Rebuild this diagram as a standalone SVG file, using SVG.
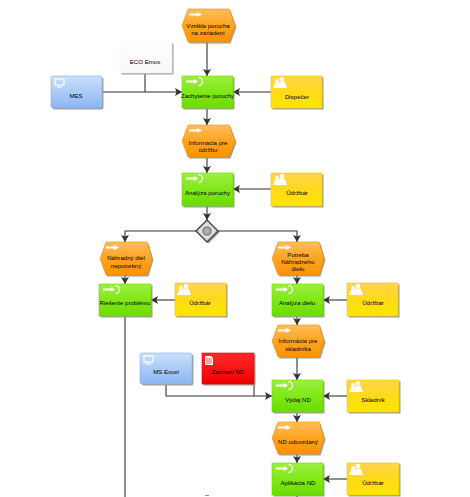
<svg xmlns="http://www.w3.org/2000/svg" xmlns:xlink="http://www.w3.org/1999/xlink" width="470" height="497" viewBox="0 0 470 497">
<style>
text{font-family:"Liberation Sans",Arial,sans-serif;font-size:6.1px;fill:#000;text-anchor:middle}
.c{fill:none;stroke:#333;stroke-width:1.1}
.ev{fill:url(#o);stroke:#f09000;stroke-width:.6}
.fn{fill:url(#g);stroke:#70d800;stroke-width:.6}
.ro{fill:url(#y);stroke:#f0c800;stroke-width:.6}
.sy{fill:url(#b);stroke:#8aaee4;stroke-width:.6}
.wh{fill:url(#w);stroke:#f4f4f4;stroke-width:.6}
.dc{fill:url(#r);stroke:#e00000;stroke-width:.6}
.sh{fill:#8a8a7a;opacity:.8}
.ic{fill:#fff}
</style>
<defs>
<linearGradient id="o" x1="0" y1="0" x2="0" y2="1"><stop offset="0" stop-color="#ffbe5c"/><stop offset=".5" stop-color="#ffa420"/><stop offset="1" stop-color="#ff9200"/></linearGradient>
<linearGradient id="g" x1="0" y1="0" x2="0" y2="1"><stop offset="0" stop-color="#9cf040"/><stop offset=".5" stop-color="#80e818"/><stop offset="1" stop-color="#6cdc00"/></linearGradient>
<linearGradient id="y" x1="0" y1="0" x2="0" y2="1"><stop offset="0" stop-color="#ffd650"/><stop offset=".5" stop-color="#ffda18"/><stop offset="1" stop-color="#ffe600"/></linearGradient>
<linearGradient id="b" x1="0" y1="0" x2="0" y2="1"><stop offset="0" stop-color="#c8e0fc"/><stop offset="1" stop-color="#8cb6f2"/></linearGradient>
<linearGradient id="w" x1="0" y1="0" x2="0" y2="1"><stop offset="0" stop-color="#ffffff"/><stop offset="1" stop-color="#f8f8f8"/></linearGradient>
<linearGradient id="r" x1="0" y1="0" x2="0" y2="1"><stop offset="0" stop-color="#ff2828"/><stop offset="1" stop-color="#f00000"/></linearGradient>
<radialGradient id="gy"><stop offset="0" stop-color="#c4c4c4"/><stop offset="1" stop-color="#7a7a7a"/></radialGradient>
<marker id="a" markerUnits="userSpaceOnUse" markerWidth="9" markerHeight="9" refX="7" refY="4" orient="auto"><path d="M0 0L7 4L0 8L1.5 4Z" fill="#333"/></marker>
<g id="evI"><path class="ic" d="M0 1.500H8V0L13 2.500L8 5V3.500H0Z"/></g>
<g id="fnI"><path class="ic" d="M0 1.500H8V0L12 2.500L8 5V3.500H0Z"/><path d="M12.500 -1.500A4 4 0 1 1 12.500 6.500" fill="none" stroke="#fff" stroke-width="1.300"/></g>
<g id="roI"><g class="ic"><circle cx="4" cy="4" r="2"/><path d="M0 11L2 6H6L8 11Z"/><circle cx="9" cy="2" r="2.300"/><path d="M5 11L6.500 4.500H11.500L14 11Z"/></g></g>
<g id="syI"><rect x="0" y="0" width="9" height="6" fill="none" stroke="#fff" stroke-width="1.200"/><path d="M2 8H7" stroke="#fff" stroke-width="1.200"/></g>
<g id="dcI"><path class="ic" d="M0 0H6L8 2V9H0Z"/><path d="M1 3H7M1 5H7M1 7H7" stroke="#d00" stroke-width=".7"/></g>
</defs>

<g id="connectors">
<path class="c" d="M207 42V76" marker-end="url(#a)"/>
<path class="c" d="M103 92H182" marker-end="url(#a)"/>
<path class="c" d="M145 74V92"/>
<path class="c" d="M271 92H233" marker-end="url(#a)"/>
<path class="c" d="M207 109V125" marker-end="url(#a)"/>
<path class="c" d="M207 158V173" marker-end="url(#a)"/>
<path class="c" d="M271 189H233" marker-end="url(#a)"/>
<path class="c" d="M207 206V220" marker-end="url(#a)"/>
<path class="c" d="M197 231H125V242" marker-end="url(#a)"/>
<path class="c" d="M217 231H297V242" marker-end="url(#a)"/>
<path class="c" d="M125 275V284" marker-end="url(#a)"/>
<path class="c" d="M175 300H151" marker-end="url(#a)"/>
<path class="c" d="M125 317V497"/>
<path class="c" d="M297 275V284" marker-end="url(#a)"/>
<path class="c" d="M347 300H323" marker-end="url(#a)"/>
<path class="c" d="M297 317V325" marker-end="url(#a)"/>
<path class="c" d="M297 357V380" marker-end="url(#a)"/>
<path class="c" d="M166 385V396H272" marker-end="url(#a)"/>
<path class="c" d="M254 385V396"/>
<path class="c" d="M347 396H323" marker-end="url(#a)"/>
<path class="c" d="M297 413V422" marker-end="url(#a)"/>
<path class="c" d="M297 454V463" marker-end="url(#a)"/>
<path class="c" d="M347 479H323" marker-end="url(#a)"/>
<path class="c" d="M297 496V497"/>
<path d="M205 495.500H209" stroke="#999" stroke-width="1"/>
</g>

<g id="e1"><path class="sh" d="M189.500 10.500H230.500L236.500 27L230.500 43.500H189.500L183.500 27Z"/><path class="ev" d="M188 9H229L235 25.500L229 42H188L182 25.500Z"/><use href="#evI" x="189" y="12"/><text x="208" y="28">Vznikla porucha</text><text x="208" y="35">na zariadení</text></g>
<g id="eco"><rect class="sh" x="121.500" y="43.500" width="52" height="31"/><rect class="wh" x="120" y="42" width="52" height="31"/><text x="145" y="64">ECO Emos</text></g>
<g id="mes"><rect class="sh" x="52.500" y="77.500" width="51" height="32" rx="2"/><rect class="sy" x="51" y="76" width="51" height="32" rx="2"/><use href="#syI" x="55" y="79"/><text x="76" y="98">MES</text></g>
<g id="f1"><rect class="sh" x="183.500" y="77.500" width="51" height="32"/><rect class="fn" x="182" y="76" width="51" height="32"/><use href="#fnI" x="186" y="79"/><text x="207.500" y="98">Zachytenie poruchy</text></g>
<g id="r1"><rect class="sh" x="272.500" y="77.500" width="51" height="32"/><rect class="ro" x="271" y="76" width="51" height="32"/><use href="#roI" x="273" y="77"/><text x="297" y="99">Dispečer</text></g>
<g id="e2"><path class="sh" d="M189.500 126.500H230.500L236.500 142.500L230.500 158.500H189.500L183.500 142.500Z"/><path class="ev" d="M188 125H229L235 141L229 157H188L182 141Z"/><use href="#evI" x="189" y="128"/><text x="208" y="145">Informácia pre</text><text x="208" y="151.500">údržbu</text></g>
<g id="f2"><rect class="sh" x="183.500" y="174.500" width="51" height="33"/><rect class="fn" x="182" y="173" width="51" height="33"/><use href="#fnI" x="186" y="176"/><text x="207.500" y="195">Analýza poruchy</text></g>
<g id="r2"><rect class="sh" x="272.500" y="174.500" width="51" height="33"/><rect class="ro" x="271" y="173" width="51" height="33"/><use href="#roI" x="273" y="174"/><text x="297" y="195">Údržbár</text></g>
<g id="gw"><path class="sh" d="M208.500 221.500L219.500 232.500L208.500 243.500L197.500 232.500Z"/><path d="M207 220L218 231L207 242L196 231Z" fill="#d8d8d8" stroke="#444" stroke-width="1.400"/><circle cx="207" cy="231" r="5.500" fill="url(#gy)" stroke="#fff" stroke-width="1"/></g>
<g id="e3"><path class="sh" d="M107.500 243.500H148.500L153.500 260L148.500 276.500H107.500L101.500 260Z"/><path class="ev" d="M106 242H147L152 258.500L147 275H106L100 258.500Z"/><use href="#evI" x="106" y="245"/><text x="126" y="260">Náhradný diel</text><text x="126" y="268">nepotrebný</text></g>
<g id="e4"><path class="sh" d="M279.500 243.500H320.500L325.500 260L320.500 276.500H279.500L273.500 260Z"/><path class="ev" d="M278 242H319L324 258.500L319 275H278L272 258.500Z"/><use href="#evI" x="278" y="245"/><text x="298" y="257">Potreba</text><text x="298" y="264">Náhradného</text><text x="298" y="271">dielu</text></g>
<g id="f3"><rect class="sh" x="100.500" y="285.500" width="52" height="32"/><rect class="fn" x="99" y="284" width="52" height="32"/><use href="#fnI" x="103" y="287"/><text x="125" y="305">Riešenie problému</text></g>
<g id="r3"><rect class="sh" x="176.500" y="284.500" width="51" height="33"/><rect class="ro" x="175" y="283" width="51" height="33"/><use href="#roI" x="177" y="284"/><text x="200" y="305">Údržbár</text></g>
<g id="f4"><rect class="sh" x="273.500" y="285.500" width="51" height="32"/><rect class="fn" x="272" y="284" width="51" height="32"/><use href="#fnI" x="276" y="287"/><text x="297" y="305">Analýza dielu</text></g>
<g id="r4"><rect class="sh" x="348.500" y="284.500" width="51" height="33"/><rect class="ro" x="347" y="283" width="51" height="33"/><use href="#roI" x="349" y="284"/><text x="373" y="305">Údržbár</text></g>
<g id="e5"><path class="sh" d="M279.500 326.500H320.500L325.500 342.500L320.500 358.500H279.500L273.500 342.500Z"/><path class="ev" d="M278 325H319L324 341L319 357H278L272 341Z"/><use href="#evI" x="278" y="328"/><text x="298" y="343">Informácia pre</text><text x="298" y="351">skladníka</text></g>
<g id="excel"><rect class="sh" x="141.500" y="354.500" width="52" height="31" rx="2"/><rect class="sy" x="140" y="353" width="52" height="31" rx="2"/><use href="#syI" x="144" y="356"/><text x="166" y="374">MS Excel</text></g>
<g id="zoznam"><rect class="sh" x="203.500" y="354.500" width="52" height="31"/><rect class="dc" x="202" y="353" width="52" height="31"/><use href="#dcI" x="205" y="356"/><text x="228" y="374">Zoznam ND</text></g>
<g id="f5"><rect class="sh" x="273.500" y="381.500" width="51" height="32"/><rect class="fn" x="272" y="380" width="51" height="32"/><use href="#fnI" x="276" y="383"/><text x="298" y="402">Výdaj ND</text></g>
<g id="r5"><rect class="sh" x="348.500" y="381.500" width="52" height="32"/><rect class="ro" x="347" y="380" width="52" height="32"/><use href="#roI" x="349" y="381"/><text x="373" y="402">Skladník</text></g>
<g id="e6"><path class="sh" d="M279.500 423.500H320.500L325.500 439.500L320.500 455.500H279.500L273.500 439.500Z"/><path class="ev" d="M278 422H319L324 438L319 454H278L272 438Z"/><use href="#evI" x="278" y="425"/><text x="298" y="444">ND odovzdaný</text></g>
<g id="f6"><rect class="sh" x="273.500" y="464.500" width="51" height="32"/><rect class="fn" x="272" y="463" width="51" height="32"/><use href="#fnI" x="276" y="466"/><text x="298" y="485">Aplikácia ND</text></g>
<g id="r6"><rect class="sh" x="348.500" y="464.500" width="52" height="32"/><rect class="ro" x="347" y="463" width="52" height="32"/><use href="#roI" x="349" y="464"/><text x="373" y="485">Údržbár</text></g>
</svg>
